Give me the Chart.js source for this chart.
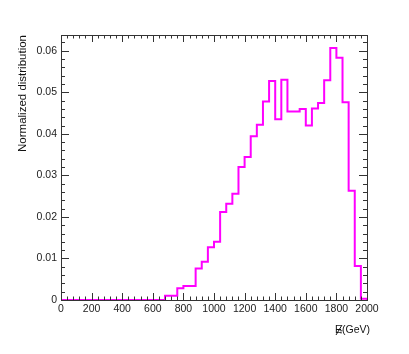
<!DOCTYPE html>
<html>
<head>
<meta charset="utf-8">
<script src="https://cdn.jsdelivr.net/npm/chart.js@4.4.1/dist/chart.umd.min.js"></script>
<style>
  html, body { margin: 0; padding: 0; background: #fff; }
  #wrap { width: 409px; height: 354px; }
</style>
</head>
<body>
<div id="wrap"><canvas id="histo" width="409" height="354"></canvas></div>
<script>
// bins of 40 GeV from 0 to 2000
let binWidth = 40;
let binValues = [
    0, 0, 0, 0, 0, 0, 0, 0, 0, 0,
    0, 0, 0, 0, 0, 0, 0, 0.001, 0.001, 0.0028,
    0.0034, 0.0034, 0.0076, 0.0092, 0.0127, 0.014, 0.0212, 0.0232, 0.0256, 0.032,
    0.0344, 0.0394, 0.0422, 0.0478, 0.0527, 0.0435, 0.053, 0.0454, 0.0454, 0.046,
    0.042, 0.0461, 0.0474, 0.0529, 0.0607, 0.0583, 0.0476, 0.0263, 0.0082, 0.0003
];
let yTicks = [0, 0.01, 0.02, 0.03, 0.04, 0.05, 0.06];
let xTicks = [0, 200, 400, 600, 800, 1000, 1200, 1400, 1600, 1800, 2000];

let fontFamily = '"Liberation Sans", Arial, sans-serif';

// step outline: one point per bin low edge, then close down at the last edge
let points = binValues.map((v, i) => ({ x: i * binWidth, y: v }));
points.push({ x: binValues.length * binWidth, y: 0 });

// ROOT-like frame with inner ticks on all four sides
const frameTicks = {
    id: 'frameTicks',
    afterDatasetsDraw(chart) {
        const { ctx, chartArea: a, scales } = chart;
        const xs = scales.x, ys = scales.y;
        ctx.save();
        ctx.strokeStyle = '#333';
        ctx.lineWidth = 1;
        ctx.beginPath();
        // x ticks, minor every 40
        for (let v = 0; v <= 2000; v += 40) {
            let px = Math.round(xs.getPixelForValue(v)) + 0.5;
            let len = (v % 200 === 0) ? 7 : 3.5;
            ctx.moveTo(px, a.bottom); ctx.lineTo(px, a.bottom - len);
            ctx.moveTo(px, a.top); ctx.lineTo(px, a.top + len);
        }
        // y ticks, minor every 0.002
        for (let k = 0; k * 0.002 <= ys.max + 1e-9; k++) {
            let py = Math.round(ys.getPixelForValue(k * 0.002)) + 0.5;
            let len = (k % 5 === 0) ? 8 : 4;
            ctx.moveTo(a.left, py); ctx.lineTo(a.left + len, py);
            ctx.moveTo(a.right, py); ctx.lineTo(a.right - len, py);
        }
        ctx.stroke();
        ctx.strokeRect(Math.round(a.left) + 0.5, Math.round(a.top) + 0.5,
            Math.round(a.right - a.left), Math.round(a.bottom - a.top));

        // axis titles
        ctx.fillStyle = '#111';
        ctx.strokeStyle = '#111';
        ctx.font = '11.5px ' + fontFamily;
        ctx.textBaseline = 'middle';
        ctx.save();
        ctx.translate(23, a.top);
        ctx.rotate(-Math.PI / 2);
        ctx.textAlign = 'right';
        ctx.fillText('Normalized distribution', 0, 0);
        ctx.restore();

        ctx.font = '10.5px ' + fontFamily;
        ctx.textAlign = 'left';
        let tx = 335, ty = 330;
        ctx.fillText('E', tx, ty);
        let ew = ctx.measureText('E').width;
        ctx.beginPath();
        ctx.moveTo(tx + 1, ty + 5); ctx.lineTo(tx + ew, ty - 5);
        ctx.stroke();
        ctx.font = '5px ' + fontFamily;
        ctx.fillText('T', tx + ew - 2.5, ty + 3);
        ctx.font = '10.5px ' + fontFamily;
        ctx.fillText('(GeV)', tx + ew, ty);
        ctx.restore();
    }
};

let chart = new Chart(document.getElementById('histo'), {
    type: 'line',
    data: {
        datasets: [{
            data: points,
            borderColor: '#ff00ff',
            borderWidth: 2,
            pointRadius: 0,
            stepped: true,
            fill: false
        }]
    },
    options: {
        responsive: false,
        animation: false,
        layout: { padding: { left: 0, top: 35, right: 42, bottom: 0 } },
        plugins: { legend: { display: false }, tooltip: { enabled: false } },
        scales: {
            x: {
                type: 'linear',
                min: 0,
                max: 2000,
                afterFit: s => { s.height = 54; },
                afterBuildTicks: s => { s.ticks = xTicks.map(v => ({ value: v })); },
                grid: { display: false, drawTicks: false },
                border: { display: false },
                ticks: {
                    autoSkip: false,
                    maxRotation: 0,
                    padding: 3,
                    color: '#222',
                    font: { family: fontFamily, size: 10.5 },
                    callback: v => String(v)
                }
            },
            y: {
                min: 0,
                max: 0.0638,
                afterFit: s => { s.width = 61; },
                afterBuildTicks: s => { s.ticks = yTicks.map(v => ({ value: v })); },
                grid: { display: false, drawTicks: false },
                border: { display: false },
                ticks: {
                    padding: 4,
                    color: '#222',
                    font: { family: fontFamily, size: 10.5 },
                    callback: v => v === 0 ? '0' : v.toFixed(2)
                }
            }
        }
    },
    plugins: [frameTicks]
});
</script>
</body>
</html>
